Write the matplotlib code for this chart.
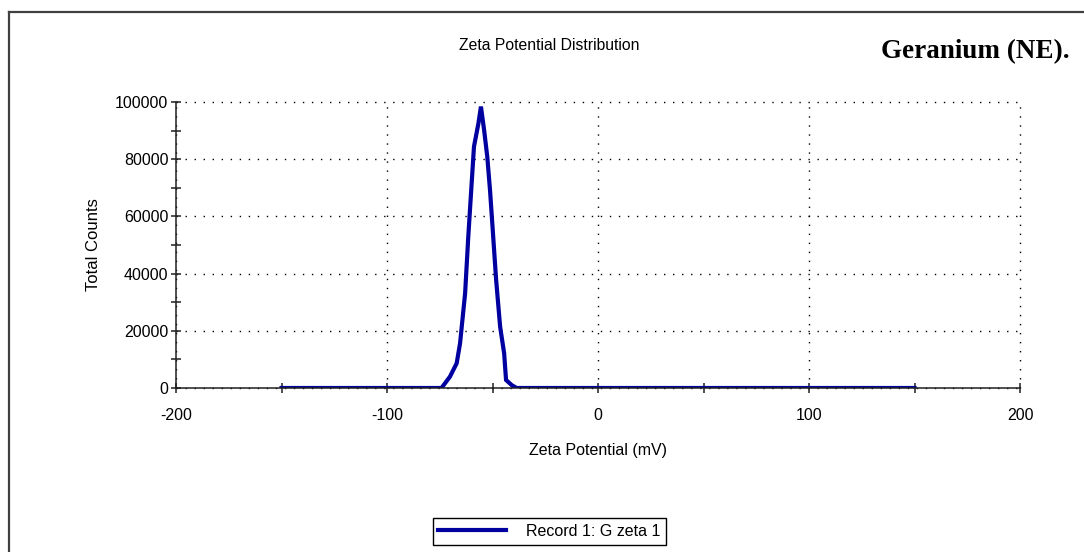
# coding: utf-8
import numpy as np
import matplotlib
matplotlib.use('Agg')
import matplotlib.pyplot as plt
from matplotlib.ticker import MultipleLocator
from matplotlib.lines import Line2D

# data
zeta_mv = [-150, -100, -74.2, -70.2, -67.0, -65.4, -63.0, -61.5, -60.3, -59.4,
           -58.8, -56.7, -55.5, -54.0, -52.5, -51.2, -49.9, -48.3, -46.4,
           -44.5, -43.6, -40.9, -38.6, 0, 100, 150]
counts = [0, 0, 0, 3950, 8630, 15600, 33100, 52900, 66900, 77400,
          84400, 92500, 98400, 90200, 80900, 69200, 55200, 37800, 21400,
          12100, 2800, 1000, 0, 0, 0, 0]
x_ticks = [-200, -100, 0, 100, 200]
y_ticks = [0, 20000, 40000, 60000, 80000, 100000]
series_name = 'Record 1: G zeta 1'

plt.rcParams['font.family'] = ['Liberation Sans', 'DejaVu Sans']
plt.rcParams['axes.unicode_minus'] = False

fig = plt.figure(figsize=(10.84, 5.52), dpi=100)
ax = fig.add_axes([0.1624, 0.2971, 0.7786, 0.5181])

ax.plot(zeta_mv, counts, color='#0000a0', lw=3.0, solid_joinstyle='miter')

ax.set_xlim(-200, 200)
ax.set_ylim(0, 100000)
ax.set_xticks(x_ticks)
ax.set_yticks(y_ticks)
ax.xaxis.set_minor_locator(MultipleLocator(50))
ax.yaxis.set_minor_locator(MultipleLocator(10000))

ax.grid(True, which='major', color='black', lw=1.0, linestyle=(0, (1, 5.5)))
for gl in ax.get_xgridlines() + ax.get_ygridlines():
    gl.set_clip_on(False)  # keep the edge grid lines (x=200, y=100000) whole
for s in ['top', 'right']:
    ax.spines[s].set_visible(False)
for s in ['left', 'bottom']:
    ax.spines[s].set_linewidth(1.1)
    ax.spines[s].set_color('#202020')

ax.tick_params(which='both', direction='inout', length=7, width=1.1, color='#202020')
ax.tick_params(axis='x', labelsize=11.5, pad=11)
ax.tick_params(axis='y', labelsize=11.5, pad=2)

ax.set_xlabel('Zeta Potential (mV)', fontsize=11.5, labelpad=14)
ax.set_ylabel('Total Counts', fontsize=12, labelpad=10)

fig.text(0.5065, 0.918, 'Zeta Potential Distribution', fontsize=11.3,
         ha='center', va='center')
fig.text(0.8995, 0.906, 'Geranium (NE).', fontsize=19.5, fontweight='bold',
         family=['Liberation Serif', 'DejaVu Serif'], ha='center', va='center')

handle = Line2D([], [], color='#0000a0', lw=3.0)
leg = fig.legend([handle], [series_name], loc='center',
                 bbox_to_anchor=(0.507, 0.037), fontsize=11.5,
                 fancybox=False, framealpha=1, edgecolor='black',
                 handlelength=4.2, handletextpad=1.3, borderpad=0.35)
leg.get_frame().set_linewidth(1.0)

# outer frame lines (top and left)
fig.add_artist(Line2D([0.0083, 1.0], [0.978, 0.978], color='#404040', lw=1.6,
                      transform=fig.transFigure))
fig.add_artist(Line2D([0.0083, 0.0083], [0.0, 0.978], color='#404040', lw=1.6,
                      transform=fig.transFigure))

plt.savefig('out.png', dpi=100)
plt.close()
